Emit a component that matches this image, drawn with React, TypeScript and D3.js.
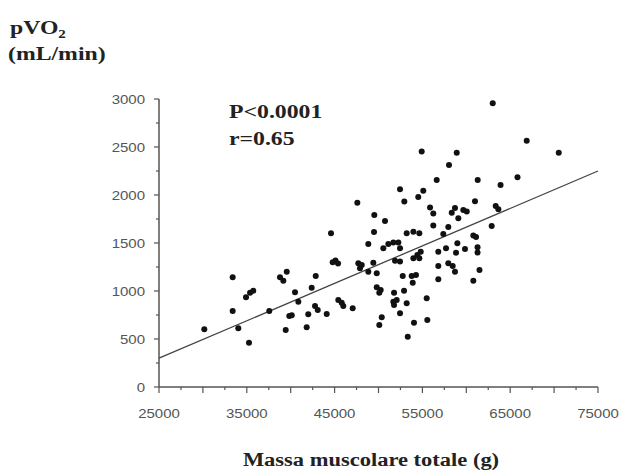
import React from 'react';
import * as d3 from 'd3';

// muscle mass (g) and peak VO2 (mL/min)
const mass = [
  30160, 33390, 33390, 34030, 34910, 35370, 35740, 35250, 37560, 38780,
  39160, 39550, 39430, 39840, 40490, 40870, 42390, 42850, 42770, 43080,
  40120, 42000, 44100, 41820, 44590, 44780, 47590, 49520, 50740, 49490,
  48840, 50550, 51120, 51690, 52260, 52450, 52450, 52940, 54530, 55100,
  54920, 56630, 58030, 58910, 55870, 56240, 58710, 58340, 59090, 56240,
  57950, 53210, 53970, 54650, 57380, 58980, 56810, 57690, 58830, 54810,
  54420, 53970, 54650, 45100, 45390, 47700, 47890, 48090, 49410, 51880,
  52450, 48840, 49800, 56810, 57950, 58450, 58710, 52760, 53780, 54270,
  53900, 56810, 49800, 50250, 50090, 51770, 52910, 55490, 45420, 45810,
  45990, 47060, 51690, 52070, 51770, 53210, 52450, 50370, 50090, 54040,
  55560, 53330, 63010, 66880, 70530, 61300, 63900, 65830, 60990, 63350,
  63650, 59660, 60050, 62890, 60800, 61110, 59850, 61280, 61280, 61500,
  60800,
];
const pvo2 = [
  601, 1143, 792, 612, 935, 983, 1003, 462, 792, 1143,
  1108, 1201, 594, 740, 987, 889, 1035, 1157, 844, 802,
  747, 758, 761, 622, 1602, 1299, 1920, 1792, 1730, 1615,
  1490, 1445, 1490, 1504, 1504, 1445, 2060, 1931, 1980, 2045,
  2452, 2157, 2313, 2441, 1870, 1806, 1865, 1816, 1758, 1681,
  1667, 1602, 1618, 1602, 1594, 1497, 1410, 1445, 1399, 1410,
  1375, 1341, 1341, 1318, 1287, 1289, 1237, 1271, 1295, 1316,
  1306, 1201, 1185, 1261, 1289, 1261, 1201, 1157, 1157, 1167,
  1087, 1122, 1039, 1011, 983, 983, 1003, 924, 907, 878,
  844, 820, 889, 907, 854, 872, 768, 726, 646, 670,
  698, 524, 2956, 2566, 2441, 2157, 2105, 2185, 1935, 1886,
  1852, 1844, 1827, 1678, 1579, 1563, 1438, 1456, 1401, 1219,
  1108,
];

const fitMass = [25000, 75000];
const fitPvo2 = [300, 2250];

const xTickLabels = [25000, 35000, 45000, 55000, 65000, 75000];
const yTickLabels = [0, 500, 1000, 1500, 2000, 2500, 3000];
const statLines = ['P<0.0001', 'r=0.65'];

const serif = '"Liberation Serif", "Times New Roman", serif';
const sans = '"Liberation Sans", Arial, sans-serif';

export default function App() {
  const x = d3.scaleLinear().domain([25000, 75000]).range([159, 598]);
  const y = d3.scaleLinear().domain([0, 3000]).range([387, 99]);

  const points = mass.map((m, i) => ({ m, v: pvo2[i] }));
  const fit = fitMass.map((m, i) => ({ m, v: fitPvo2[i] }));
  const line = d3.line<{ m: number; v: number }>().x(d => x(d.m)).y(d => y(d.v));

  const xMinor = d3.range(25000, 75001, 2500);
  const yMinor = d3.range(0, 3001, 250);
  const [x0, x1] = x.range();
  const [y0, y1] = y.range();

  return (
    <svg width={621} height={471} style={{ position: 'absolute', left: 0, top: 0, background: '#fff' }}>
      {/* y title */}
      <g transform="translate(10, 34) scale(1.25, 1)">
        <text fontFamily={serif} fontWeight="bold" fontSize={19} fill="#222">
          pVO<tspan fontSize={12} dy={4}>2</tspan>
        </text>
      </g>
      <g transform="translate(8, 60) scale(1.25, 1)">
        <text fontFamily={serif} fontWeight="bold" fontSize={19} fill="#222">(mL/min)</text>
      </g>

      {/* axes */}
      <line x1={x0} x2={x0} y1={y1} y2={y0} stroke="#555" strokeWidth={1.5} />
      <line x1={x0} x2={x1} y1={y0} y2={y0} stroke="#555" strokeWidth={1.5} />
      {yMinor.map(t => (
        <line key={`ym-${t}`} x1={x0 - (t % 500 === 0 ? 5 : 3)} x2={x0} y1={y(t)} y2={y(t)} stroke="#555" strokeWidth={1.2} />
      ))}
      {xMinor.map(t => (
        <line key={`xm-${t}`} x1={x(t)} x2={x(t)} y1={y0} y2={y0 + (t % 5000 === 0 ? 6 : 3)} stroke="#555" strokeWidth={1.2} />
      ))}
      {yTickLabels.map(t => (
        <g key={`yl-${t}`} transform={`translate(145, ${y(t) + 4.5}) scale(1.2, 1)`}>
          <text textAnchor="end" fontFamily={sans} fontSize={12.5} fill="#555">{t}</text>
        </g>
      ))}
      {xTickLabels.map(t => (
        <g key={`xl-${t}`} transform={`translate(${x(t)}, 418) scale(1.2, 1)`}>
          <text textAnchor="middle" fontFamily={sans} fontSize={12.5} fill="#555">{t}</text>
        </g>
      ))}

      {/* regression line */}
      <path d={line(fit) ?? ''} fill="none" stroke="#444" strokeWidth={1.3} />

      {/* points */}
      {points.map((d, i) => (
        <circle key={i} cx={x(d.m)} cy={y(d.v)} r={3} fill="#111" />
      ))}

      {/* stats */}
      {statLines.map((s, i) => (
        <g key={s} transform={`translate(229, ${118 + i * 27}) scale(1.25, 1)`}>
          <text fontFamily={serif} fontWeight="bold" fontSize={19} fill="#222">{s}</text>
        </g>
      ))}

      {/* x title */}
      <g transform="translate(371, 466) scale(1.25, 1)">
        <text textAnchor="middle" fontFamily={serif} fontWeight="bold" fontSize={18} fill="#222">
          Massa muscolare totale (g)
        </text>
      </g>
    </svg>
  );
}
